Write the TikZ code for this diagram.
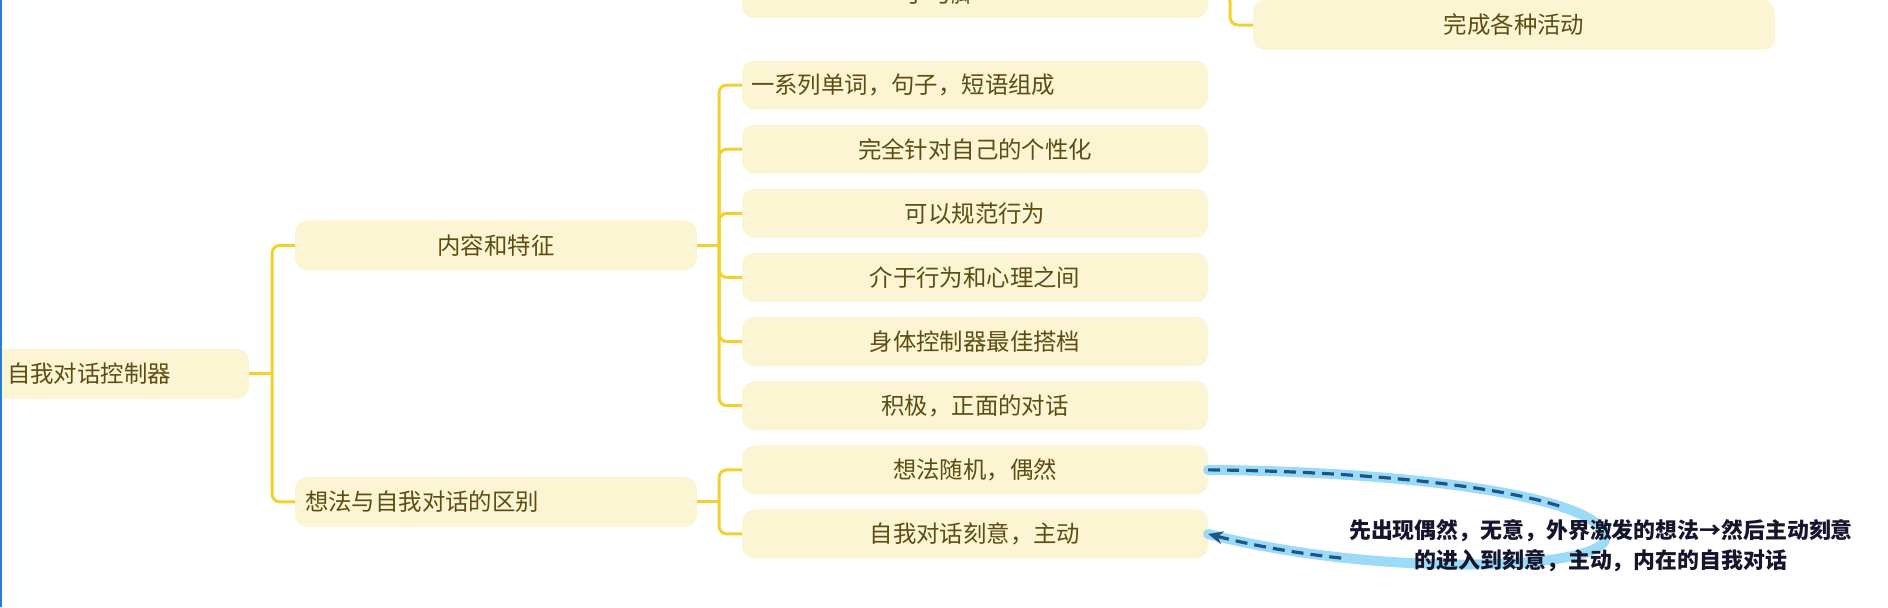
\documentclass[tikz,border=0pt]{standalone}
\usepackage{fontspec}
\setmainfont{Noto Sans CJK SC}
\usetikzlibrary{positioning,arrows.meta}
\definecolor{boxfill}{HTML}{FCF5D3}
\definecolor{boxtext}{HTML}{5C4D12}
\definecolor{linkyellow}{HTML}{F2D12C}
\definecolor{relband}{HTML}{9CDBF7}
\definecolor{reldash}{HTML}{1D5588}
\definecolor{notetext}{HTML}{15152E}
\definecolor{frameblue}{HTML}{2A7BD4}

\begin{document}
\begin{tikzpicture}[
  x=1pt, y=1pt,
  font=\fontsize{11.7}{14}\selectfont,
  node distance=7.57pt,
  box/.style={fill=boxfill, text=boxtext, rounded corners=6pt, inner sep=0pt, outer sep=0pt, minimum height=25pt},
  mainbox/.style={box, minimum width=201pt},
  leaf/.style={box, minimum width=233pt, minimum height=24.5pt},
  link/.style={draw=linkyellow, line width=1.5pt, rounded corners=4pt},
  rel/.style={draw=reldash, line width=1.6pt, dash pattern=on 6pt off 3.5pt}
]
\useasboundingbox (0,0) rectangle (944,-303.5);
\clip (0,0) rectangle (944,-303.5);

% --- root and first level ---
\node[box, anchor=west, minimum width=130.5pt, text width=111.5pt, inner xsep=9.5pt, align=left] (root) at (-6,-186.8) {自我对话控制器};
\node[mainbox, anchor=west] (n1) at (147.5,-122.68) {内容和特征};
\node[mainbox, anchor=west, text width=191pt, inner xsep=5pt, align=left] (n2) at (147.5,-250.96) {想法与自我对话的区别};

% --- leaves ---
\node[leaf, anchor=west, text width=224pt, inner xsep=4.5pt, align=left] (t1) at (371,-42.5) {一系列单词，句子，短语组成};
\node[leaf, below=of t1] (t2) {完全针对自己的个性化};
\node[leaf, below=of t2] (t3) {可以规范行为};
\node[leaf, below=of t3] (t4) {介于行为和心理之间};
\node[leaf, below=of t4] (t5) {身体控制器最佳搭档};
\node[leaf, below=of t5] (t6) {积极，正面的对话};
\node[leaf, below=of t6] (t7) {想法随机，偶然};
\node[leaf, below=of t7] (t8) {自我对话刻意，主动};

% --- cut off branch at the top ---
\node[leaf, above=21.25pt of t1] (t0) {\hspace*{-35pt}手与脚};
\node[box, minimum width=261pt] (act) at (757,-12.5) {完成各种活动};

% --- connectors ---
\draw[link] (root.east) -- ++(11.5,0) coordinate (j0);
\draw[link] (j0) |- (n1.west);
\draw[link] (j0) |- (n2.west);
\draw[link] (n1.east) -- ++(11,0) coordinate (j1);
\foreach \t in {t1,t2,t3,t4,t5,t6}
  \draw[link] (j1) |- (\t.west);
\draw[link] (n2.east) -- ++(11,0) coordinate (j2);
\foreach \t in {t7,t8}
  \draw[link] (j2) |- (\t.west);
\draw[link] (t0.east) -- ++(11,0) |- (act.west);

% --- relationship ---
\coordinate (loop) at (802.5,-269);
\draw[relband, line width=5pt, line cap=round] (t7.east) .. controls +(106,-1) and +(0,20) .. (loop) .. controls +(0,-16) and +(86,-22) .. (t8.east);
\begin{scope}
  \clip (590,-220) -- (780,-220) -- (780,-262.5) -- (672.5,-262.5) -- (672.5,-300) -- (590,-300) -- cycle;
  \draw[rel, -{Stealth[length=7.5pt,width=6.5pt]}] (t7.east) .. controls +(106,-1) and +(0,20) .. (loop) .. controls +(0,-16) and +(86,-22) .. (t8.east);
\end{scope}
\node[font=\fontsize{10.95}{15}\selectfont\bfseries, text=notetext, align=center] (note) at (800.5,-273) {先出现偶然，无意，外界激发的想法→然后主动刻意\\的进入到刻意，主动，内在的自我对话};

\draw[frameblue, line width=1.2pt] (0.6,0) -- (0.6,-303.5);
\end{tikzpicture}
\end{document}
